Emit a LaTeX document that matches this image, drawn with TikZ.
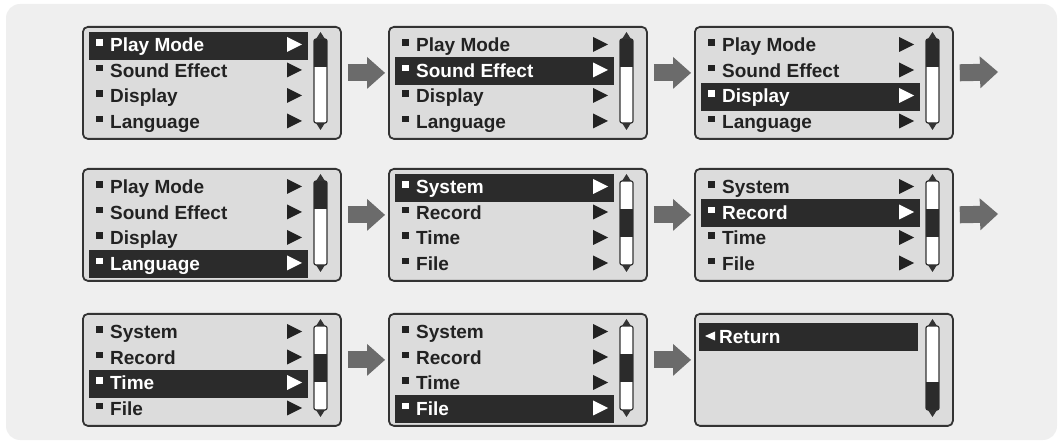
\documentclass[tikz,border=0pt]{standalone}
\usepackage{fontspec}
\setmainfont{Liberation Sans}
\usetikzlibrary{arrows.meta,positioning}
\definecolor{panelbg}{HTML}{EFEFEF}
\definecolor{screenbg}{HTML}{DCDCDC}
\definecolor{framedark}{HTML}{333333}
\definecolor{seldark}{HTML}{2B2B2B}
\definecolor{textdark}{HTML}{222222}
\definecolor{arrowgrey}{HTML}{6B6B6B}
\tikzset{
  screen/.style={draw=framedark, fill=screenbg, line width=1.8pt,
                 rounded corners=5pt, minimum width=258pt, minimum height=112pt,
                 inner sep=0pt, anchor=north west},
  item/.style={anchor=base west, inner sep=0pt,
               font=\fontsize{19}{22}\selectfont\bfseries},
  selbar/.style={fill=seldark},
  track/.style={draw=framedark, fill=white, line width=1.2pt, rounded corners=2pt},
  flow/.style={draw=arrowgrey, line width=17pt,
               -{Triangle[length=18pt,width=32pt,line width=0pt]}, shorten <=6pt},
}

\begin{document}
\begin{tikzpicture}[x=1pt, y=-1pt]

\useasboundingbox (0,0) rectangle (1063,443);
\fill[panelbg, rounded corners=14pt] (6,4) rectangle (1057,440);

% menu screens: row/col/x/y/page/selected/thumb
\foreach \r/\c/\x/\y/\pg/\sel/\th in {1/1/82/26/1/1/1, 1/2/388/26/1/2/1,
        1/3/694/26/1/3/1, 2/1/82/168/1/4/1, 2/2/388/168/2/1/2,
        2/3/694/168/2/2/2, 3/1/82/313/2/3/2, 3/2/388/313/2/4/2} {
    \node[screen] (s\r\c) at (\x,\y) {};
    \fill[selbar] (\x+7, \y+6+25.5*\sel-25.5) rectangle ++(219,28);
    \ifnum\pg=1 \def\items{Play Mode,Sound Effect,Display,Language}%
    \else \def\items{System,Record,Time,File}\fi
    \foreach \t [count=\k] in \items {
        \ifnum\k=\sel \def\tc{white}\else \def\tc{textdark}\fi
        \node[item, text=\tc] (t\r\c\k) at (\x+28, \y+0.5+25.5*\k) {\t};
        \fill[\tc] (\x+14, \y-12+25.5*\k) rectangle ++(6.5,6.5);
        \fill[\tc] (\x+205, \y-14.5+25.5*\k) -- (\x+220, \y-7+25.5*\k)
            -- (\x+205, \y+0.5+25.5*\k) -- cycle;
    }
    \draw[track] (\x+232, \y+13) rectangle (\x+245, \y+97);
    \fill[seldark] (\x+232, \y-15+28*\th) rectangle ++(13,28);
    \fill[framedark] (\x+238.5, \y+6) -- (\x+243, \y+13) -- (\x+234, \y+13) -- cycle;
    \fill[framedark] (\x+238.5, \y+104) -- (\x+243, \y+97) -- (\x+234, \y+97) -- cycle;
}

% last screen
\node[screen] (s33) at (694,313) {};
\fill[selbar] (699,323) rectangle ++(219,28);
\fill[white] (705,336) -- (715,331.5) -- (715,340.5) -- cycle;
\node[item, text=white] (t331) at (719,344) {Return};
\draw[track] (926,326) rectangle (939,410);
\fill[seldark] (926,382) rectangle (939,410);
\fill[framedark] (932.5,319) -- (937,326) -- (928,326) -- cycle;
\fill[framedark] (932.5,417) -- (937,410) -- (928,410) -- cycle;

\coordinate (e1) at (998,72);
\coordinate (e2) at (998,214);
\foreach \r in {1,2,3}
  \foreach \a/\b in {1/2,2/3}
    \draw[flow, shorten >=3pt] ([yshift=10pt]s\r\a.east) -- ([yshift=10pt]s\r\b.west);
\foreach \r in {1,2}
  \draw[flow] ([yshift=10pt]s\r3.east) -- (e\r);

\end{tikzpicture}
\end{document}
